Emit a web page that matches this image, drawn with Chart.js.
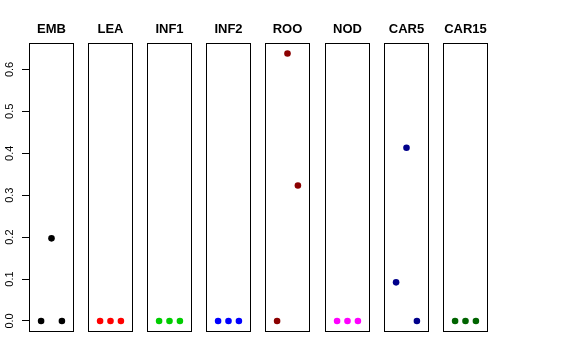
<!DOCTYPE html>
<html>
<head>
<meta charset="utf-8">
<script src="https://cdn.jsdelivr.net/npm/chart.js@4/dist/chart.umd.min.js"></script>
<style>
  html, body { margin: 0; padding: 0; background: #fff; }
  #wrap { position: relative; width: 576px; height: 360px; overflow: hidden; }
  .panel { position: absolute; top: 0; }
</style>
</head>
<body>
<div id="wrap"></div>
<script>
// panel names and the three values in each panel (x = 1, 2, 3)
const panels = ["EMB", "LEA", "INF1", "INF2", "ROO", "NOD", "CAR5", "CAR15"];
const positions = [1, 2, 3];
const emb = [0, 0.197, 0];
const lea = [0, 0, 0];
const inf1 = [0, 0, 0];
const inf2 = [0, 0, 0];
const roo = [0, 0.638, 0.323];
const nod = [0, 0, 0];
const car5 = [0.092, 0.413, 0];
const car15 = [0, 0, 0];
const yTicks = [0, 0.1, 0.2, 0.3, 0.4, 0.5, 0.6];

const series = [emb, lea, inf1, inf2, roo, nod, car5, car15];
const colors = ["#000000", "#FF0000", "#00CD00", "#0000FF", "#8B0000", "#FF00FF", "#00008B", "#006400"];

const frame = {
  id: "frame",
  afterDraw(chart) {
    const a = chart.chartArea;
    const ctx = chart.ctx;
    ctx.save();
    ctx.strokeStyle = "#000";
    ctx.lineWidth = 1;
    ctx.strokeRect(Math.round(a.left) + 0.5, Math.round(a.top) + 0.5,
      Math.round(a.right - a.left) - 1, Math.round(a.bottom - a.top) - 1);
    ctx.restore();
  }
};

const wrap = document.getElementById("wrap");
const axisW = 29;

panels.forEach((name, i) => {
  const first = i === 0;
  const left = 29 + i * 59.1;
  const w = 45 + (first ? axisW : 0);
  const canvas = document.createElement("canvas");
  canvas.className = "panel";
  canvas.style.left = Math.round(left - (first ? axisW : 0)) + "px";
  canvas.width = w;
  canvas.height = 332;
  canvas.style.width = w + "px";
  canvas.style.height = "332px";
  wrap.appendChild(canvas);

  new Chart(canvas.getContext("2d"), {
    type: "scatter",
    data: {
      datasets: [{
        data: positions.map((x, j) => ({ x: x, y: series[i][j] })),
        backgroundColor: colors[i],
        borderColor: colors[i],
        pointRadius: 3.3,
        pointBorderWidth: 0,
      }],
    },
    options: {
      responsive: false,
      animation: false,
      events: [],
      layout: { padding: 0, autoPadding: false },
      plugins: {
        legend: { display: false },
        tooltip: { enabled: false },
        title: {
          display: true,
          fullSize: false,
          text: name,
          color: "#000",
          font: { family: "Liberation Sans", weight: "bold", size: 13 },
          padding: { top: 22, bottom: 5 },
        },
      },
      scales: {
        x: {
          type: "linear",
          display: false,
          min: -0.16,
          max: 4.16,
        },
        y: {
          type: "linear",
          display: first,
          min: -0.0264,
          max: 0.664,
          afterBuildTicks: (s) => { s.ticks = yTicks.map(v => ({ value: v })); },
          afterFit: (s) => {
            if (first) {
              s.width = axisW;
              s.paddingTop = 0;
              s.paddingBottom = 0;
            }
          },
          border: { display: false },
          grid: {
            drawOnChartArea: false,
            drawTicks: true,
            tickLength: 7,
            color: "#000",
          },
          ticks: {
            color: "#000",
            minRotation: 90,
            maxRotation: 90,
            crossAlign: "center",
            padding: 4,
            font: { family: "Liberation Sans", size: 11 },
            callback: (v) => v.toFixed(1),
          },
        },
      },
    },
    plugins: [frame],
  });
});
</script>
</body>
</html>
